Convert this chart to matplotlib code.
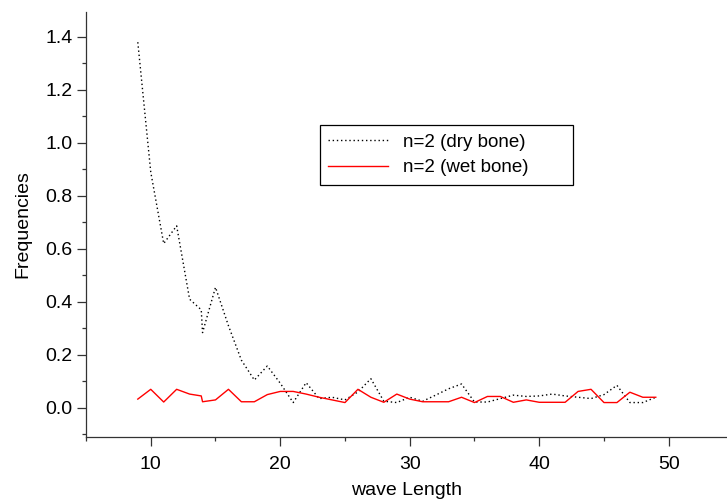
import matplotlib.pyplot as plt
from matplotlib.ticker import MultipleLocator

plt.rcParams["font.family"] = ["Liberation Sans", "DejaVu Sans"]

# wave length positions (two readings near 14)
wave_length = [9, 10, 11, 12, 13, 13.9, 14, 15, 16, 17, 18, 19, 20, 21, 22, 23, 24,
               25, 26, 27, 28, 29, 30, 31, 32, 33, 34, 35, 36, 37, 38, 39, 40, 41,
               42, 43, 44, 45, 46, 47, 48, 49]

dry_bone = [1.38, 0.89, 0.62, 0.687, 0.41, 0.37, 0.284, 0.455, 0.31, 0.18, 0.105,
            0.158, 0.093, 0.02, 0.095, 0.035, 0.04, 0.03, 0.06, 0.11, 0.025, 0.02,
            0.04, 0.025, 0.048, 0.072, 0.09, 0.022, 0.022, 0.035, 0.048, 0.043,
            0.045, 0.052, 0.045, 0.04, 0.035, 0.05, 0.085, 0.02, 0.02, 0.04]

wet_bone = [0.033, 0.07, 0.022, 0.07, 0.052, 0.045, 0.023, 0.03, 0.07, 0.023, 0.023,
            0.05, 0.062, 0.062, 0.052, 0.04, 0.03, 0.02, 0.07, 0.04, 0.021, 0.052,
            0.033, 0.023, 0.023, 0.023, 0.04, 0.02, 0.043, 0.043, 0.021, 0.03,
            0.021, 0.021, 0.021, 0.062, 0.07, 0.02, 0.02, 0.059, 0.04, 0.04]

fig = plt.figure(figsize=(7.27, 5.0), dpi=100)
ax = fig.add_axes([86 / 727, 1 - 437 / 500, 641 / 727, 425 / 500])

ax.plot(wave_length, dry_bone, color="black", linestyle=(0, (1, 2)), linewidth=1,
        label="n=2 (dry bone)")
ax.plot(wave_length, wet_bone, color="red", linewidth=1, label="n=2 (wet bone)")

ax.set_xlim(5, 54.5)
ax.set_ylim(-0.11, 1.494)

ax.xaxis.set_major_locator(MultipleLocator(10))
ax.xaxis.set_minor_locator(MultipleLocator(5))
ax.yaxis.set_major_locator(MultipleLocator(0.2))
ax.yaxis.set_minor_locator(MultipleLocator(0.1))
ax.yaxis.set_major_formatter(lambda v, p: f"{v:.1f}")

ax.spines["top"].set_visible(False)
ax.spines["right"].set_visible(False)
for s in ("left", "bottom"):
    ax.spines[s].set_color("#333333")
    ax.spines[s].set_linewidth(0.9)

ax.tick_params(which="major", direction="out", length=6.5, width=0.9,
               color="#333333", labelsize=14)
ax.tick_params(axis="x", which="major", pad=7)
ax.tick_params(axis="y", which="major", pad=3)
ax.tick_params(which="minor", direction="out", length=3, width=0.9, color="#333333")

ax.set_ylabel("Frequencies", fontsize=14, labelpad=10)
ax.set_xlabel("wave Length", fontsize=14)
ax.xaxis.set_label_coords(0.5, -0.106)

leg = ax.legend(loc="upper left",
                bbox_to_anchor=(320 / 727, 1 - 183 / 500, 253 / 727, 58 / 500),
                bbox_transform=fig.transFigure, mode="expand", fontsize=13.5,
                frameon=True, fancybox=False, edgecolor="black", framealpha=1,
                handlelength=3.2, borderpad=0.45, labelspacing=0.45,
                handletextpad=0.8, borderaxespad=0)
leg.get_frame().set_linewidth(0.9)

fig.savefig("out.png", dpi=100)
